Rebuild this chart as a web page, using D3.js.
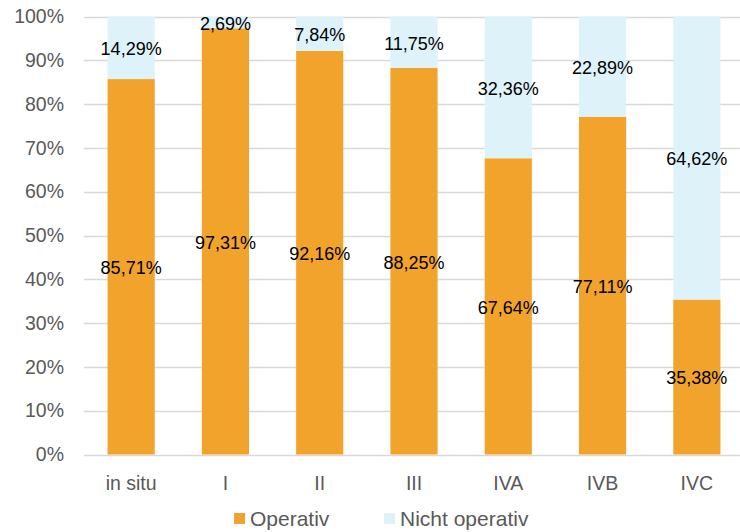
<!DOCTYPE html>
<html>
<head>
<meta charset="utf-8">
<script src="https://cdn.jsdelivr.net/npm/d3@7"></script>
<style>
  body { margin: 0; background: #fff; }
  svg { font-family: Arial, "Liberation Sans", sans-serif; }
</style>
</head>
<body>
<svg id="chart" width="740" height="532"></svg>
<script>
// Stages and shares (percent)
const categories = ["in situ", "I", "II", "III", "IVA", "IVB", "IVC"];
const operativ = [85.71, 97.31, 92.16, 88.25, 67.64, 77.11, 35.38];
const nichtOperativ = [14.29, 2.69, 7.84, 11.75, 32.36, 22.89, 64.62];
const yTicks = [0, 10, 20, 30, 40, 50, 60, 70, 80, 90, 100];
const seriesNames = ["Operativ", "Nicht operativ"];
const seriesColors = ["#F2A32B", "#DEF2FA"];

const svg = d3.select("#chart");

const x = d3.scaleBand()
    .domain(categories)
    .range([84, 744])
    .paddingInner(0.5)
    .paddingOuter(0.25);

const y = d3.scaleLinear()
    .domain([0, 100])
    .range([454.5, 16.5]);

const fmt = v => v.toFixed(2).replace(".", ",") + "%";

// gridlines
svg.append("g")
    .selectAll("line")
    .data(yTicks)
    .join("line")
    .attr("x1", 84)
    .attr("x2", 740)
    .attr("y1", d => Math.round(y(d)) + 0.5)
    .attr("y2", d => Math.round(y(d)) + 0.5)
    .attr("stroke", "#D9D9D9")
    .attr("stroke-width", 1.3);

// y axis labels
const yAxis = d3.axisLeft(y)
    .tickValues(yTicks)
    .tickFormat(d => d + "%")
    .tickSize(0)
    .tickPadding(0);

svg.append("g")
    .attr("transform", "translate(64,0)")
    .call(yAxis)
    .call(g => g.select(".domain").remove())
    .selectAll("text")
    .attr("fill", "#595959")
    .style("font-size", "19.5px")
    .style("font-family", "Arial, 'Liberation Sans', sans-serif");

// stacked data
const rows = categories.map((c, i) => ({ cat: c, op: operativ[i], nop: nichtOperativ[i] }));
const stack = d3.stack().keys(["op", "nop"]);
const layers = stack(rows);

const layerG = svg.append("g")
    .selectAll("g")
    .data(layers)
    .join("g")
    .attr("fill", (d, i) => seriesColors[i]);

layerG.selectAll("rect")
    .data(d => d)
    .join("rect")
    .attr("x", d => x(d.data.cat))
    .attr("width", x.bandwidth())
    .attr("y", d => y(d[1]))
    .attr("height", d => y(d[0]) - y(d[1]));

// data labels, centered in each segment
const labelG = svg.append("g");
layers.forEach(layer => {
    labelG.selectAll(null)
        .data(layer)
        .join("text")
        .attr("x", d => x(d.data.cat) + x.bandwidth() / 2)
        .attr("y", d => y((d[0] + d[1]) / 2) + 1)
        .attr("dy", "0.35em")
        .attr("text-anchor", "middle")
        .attr("fill", "#000")
        .style("font-size", "18px")
        .text(d => fmt(d[1] - d[0]));
});

// x axis labels
const xAxis = d3.axisBottom(x).tickSize(0).tickPadding(0);
svg.append("g")
    .attr("transform", "translate(0,490)")
    .call(xAxis)
    .call(g => g.select(".domain").remove())
    .selectAll("text")
    .attr("dy", "0")
    .attr("fill", "#595959")
    .style("font-size", "19.5px")
    .style("font-family", "Arial, 'Liberation Sans', sans-serif");

// legend
const legendX = [234, 384];
const legend = svg.append("g")
    .selectAll("g")
    .data(seriesNames)
    .join("g")
    .attr("transform", (d, i) => `translate(${legendX[i]},526)`);

legend.append("rect")
    .attr("x", 0)
    .attr("y", -13)
    .attr("width", 11)
    .attr("height", 11)
    .attr("fill", (d, i) => seriesColors[i]);

legend.append("text")
    .attr("x", 16)
    .attr("fill", "#595959")
    .style("font-size", "21px")
    .text(d => d);
</script>
</body>
</html>
